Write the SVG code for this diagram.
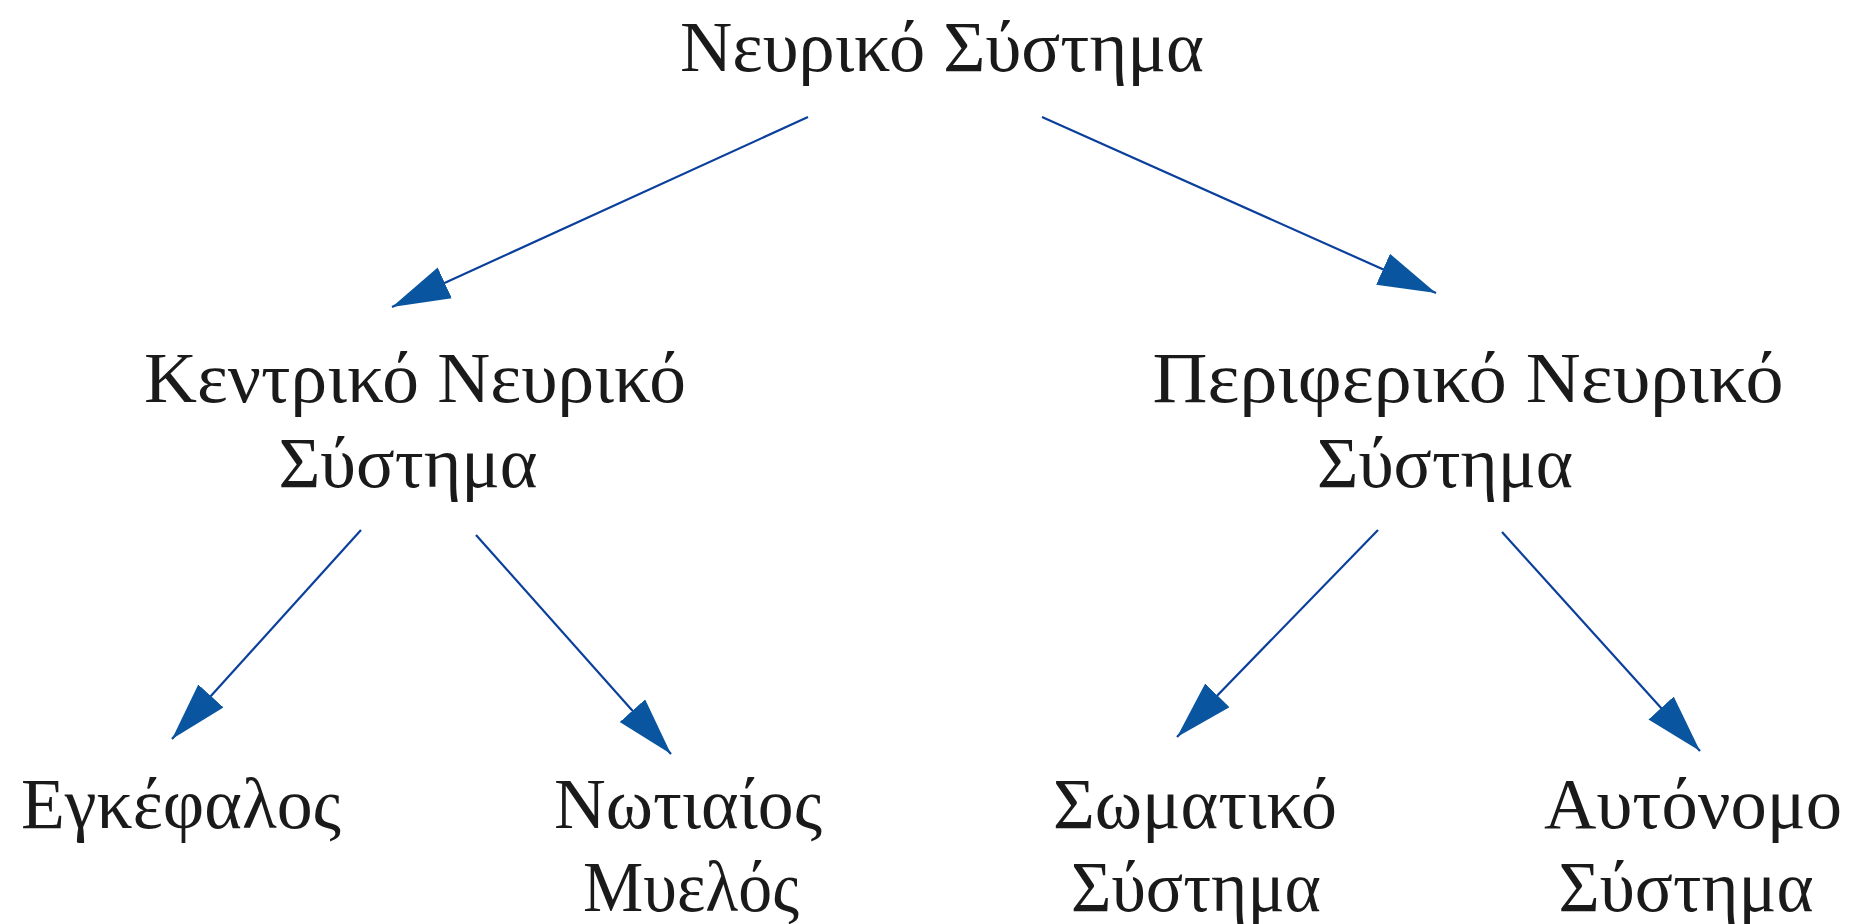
<svg xmlns="http://www.w3.org/2000/svg" width="1855" height="924" viewBox="0 0 1855 924">
<style>
text{font-family:"Liberation Serif","DejaVu Serif",serif;font-size:72px;fill:#1a1a1a;text-anchor:middle}
.c{stroke:#0a3f9c;stroke-width:2.2;fill:none;marker-end:url(#ah)}
</style>
<defs>
<marker id="ah" markerUnits="userSpaceOnUse" markerWidth="62" markerHeight="36" refX="58" refY="17" orient="auto" viewBox="0 0 62 36">
<path d="M0,0 L58,17 L0,34 Z" fill="#0a559f"/>
</marker>
</defs>
<rect width="1855" height="924" fill="#ffffff"/>
<g id="connectors">
<line class="c" x1="808" y1="117" x2="392" y2="307"/>
<line class="c" x1="1042" y1="117" x2="1436" y2="293"/>
<line class="c" x1="361" y1="530" x2="172" y2="739"/>
<line class="c" x1="476" y1="535" x2="671" y2="754"/>
<line class="c" x1="1378" y1="530" x2="1177" y2="737"/>
<line class="c" x1="1502" y1="532" x2="1700" y2="751"/>
</g>
<g id="n-root"><text x="942" y="71" textLength="524" lengthAdjust="spacingAndGlyphs">Νευρικό Σύστημα</text></g>
<g id="n-cns"><text x="415" y="402" textLength="542" lengthAdjust="spacingAndGlyphs">Κεντρικό Νευρικό</text><text x="408" y="487" textLength="259" lengthAdjust="spacingAndGlyphs">Σύστημα</text></g>
<g id="n-pns"><text x="1468" y="402" textLength="631" lengthAdjust="spacingAndGlyphs">Περιφερικό Νευρικό</text><text x="1445" y="487" textLength="256" lengthAdjust="spacingAndGlyphs">Σύστημα</text></g>
<g id="n-brain"><text x="181" y="828" textLength="320" lengthAdjust="spacingAndGlyphs">Εγκέφαλος</text></g>
<g id="n-spinal"><text x="688" y="828" textLength="268" lengthAdjust="spacingAndGlyphs">Νωτιαίος</text><text x="691" y="911" textLength="216" lengthAdjust="spacingAndGlyphs">Μυελός</text></g>
<g id="n-somatic"><text x="1195" y="828" textLength="284" lengthAdjust="spacingAndGlyphs">Σωματικό</text><text x="1196" y="911" textLength="250" lengthAdjust="spacingAndGlyphs">Σύστημα</text></g>
<g id="n-autonomic"><text x="1693" y="828" textLength="298" lengthAdjust="spacingAndGlyphs">Αυτόνομο</text><text x="1686" y="911" textLength="255" lengthAdjust="spacingAndGlyphs">Σύστημα</text></g>
</svg>
